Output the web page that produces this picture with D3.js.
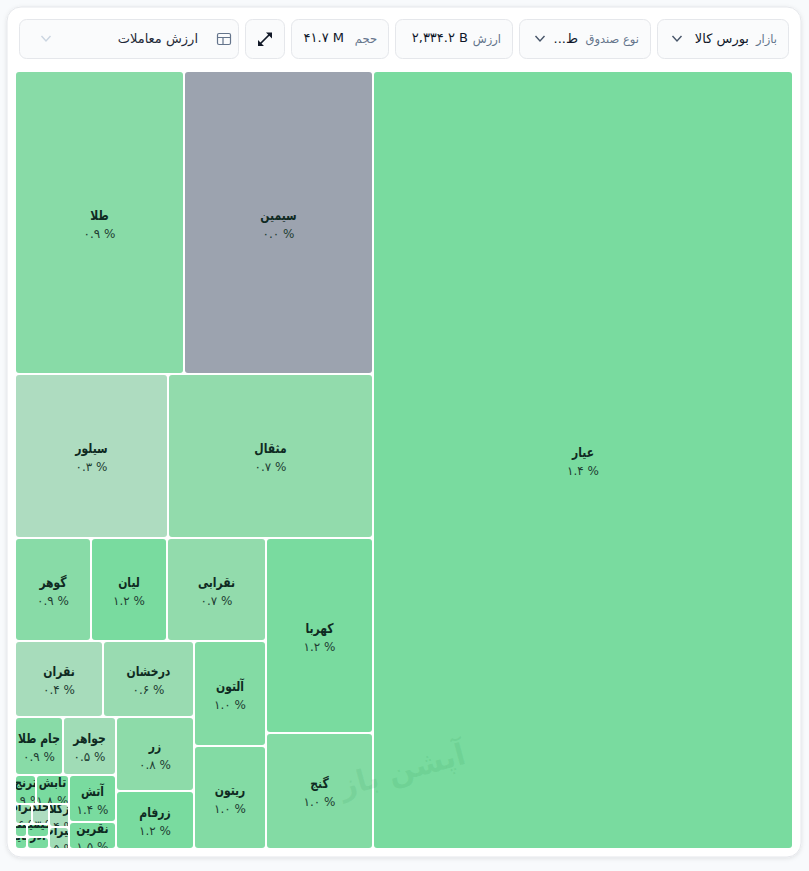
<!DOCTYPE html>
<html><head><meta charset="utf-8">
<script src="https://cdnjs.cloudflare.com/ajax/libs/d3/7.8.5/d3.min.js"></script>
<style>
html,body{margin:0;padding:0;background:#f8fafc;width:809px;height:871px;overflow:hidden}
svg{display:block;position:absolute;left:0;top:0}
text{font-family:"DejaVu Sans","Noto Sans",sans-serif}
</style></head><body><svg id="c" width="809" height="871"></svg>
<script>
// Fund trade values, B (they sum to about the 2,334.2 B total)
const names=["عیار","سیمین","طلا","مثقال","سیلور","کهربا","گنج","نقرابی","لیان","گوهر","آلتون","ریتون","درخشان","نقران","زر","زرفام","جواهر","جام طلا","آتش","نقرین","تابش","ترنج","زکلا","میراث","خلد","مراد","کیمیا","آذر","سکه","پایا"];
const values=[1260,220.8,197.5,129.6,96.8,80.5,47.9,39.3,30.2,30.2,29.2,28.6,26.7,25.8,22.3,17.4,11.9,10.7,8.5,4.9,3.7,2.35,1.77,1.7,1.31,1.31,1.1,1.02,0.6,0.56];
const changes=["۱.۴","۰.۰","۰.۹","۰.۷","۰.۳","۱.۲","۱.۰","۰.۷","۱.۲","۰.۹","۱.۰","۱.۰","۰.۶","۰.۴","۰.۸","۱.۲","۰.۵","۰.۹","۱.۴","۱.۵","۱.۸","۱.۹","۰.۴","۰.۵","۰.۳","۰.۶","۱.۲","۱.۳","۱.۱","۱.۲"];
const statsLabels=["بازار","نوع صندوق","ارزش","حجم"];
const statsValues=["بورس کالا","ط...","۲,۳۳۴.۲ B","۴۱.۷ M"];
const metricLabel="ارزش معاملات";
const watermark="آپشن باز";

// nesting of the treemap: H = side by side (right to left), V = stacked (top to bottom)
const H=(...c)=>({dir:"h",children:c}), V=(...c)=>({dir:"v",children:c});
const tiny=H(V(22,23),V(H(24,25),H(V(26,27),V(28,29))));
const tree=H(0,V(H(1,2),H(3,4),H(V(5,6),V(H(7,8,9),H(V(10,11),V(H(12,13),H(V(14,15),V(H(16,17),H(V(18,19),V(H(20,21),tiny))))))))));
const leafify=t=>typeof t==="number"?{idx:t,name:names[t],value:values[t],change:changes[t]}:{dir:t.dir,children:t.children.map(leafify)};
const root=d3.hierarchy(leafify(tree)).sum(d=>d.value||0);

const X0=15,Y0=71,X1=793,Y1=849;
const tile=(node,x0,y0,x1,y1)=>{
  const s=d3.scaleLinear().domain([0,d3.sum(node.children,c=>c.value)]);
  if(node.data.dir==="h"){ s.range([0,x1-x0]); let x=x1;
    node.children.forEach(c=>{c.y0=y0;c.y1=y1;c.x1=x;x-=s(c.value);c.x0=x;});
  } else { s.range([0,y1-y0]); let y=y0;
    node.children.forEach(c=>{c.x0=x0;c.x1=x1;c.y0=y;y+=s(c.value);c.y1=y;});
  }
};
d3.treemap().size([X1-X0,Y1-Y0]).tile(tile).round(true)(root);

const color=d3.scaleLinear().domain([0,0.01,0.3,0.7,1.2]).range(["#9ca3af","#b8dcc8","#aedcc0","#92dbac","#79db9f"]).clamp(true);
const toNum=s=>+s.replace(/[۰-۹]/g,c=>"۰۱۲۳۴۵۶۷۸۹".indexOf(c));

const svg=d3.select("#c");
const defs=svg.append("defs");
const f=defs.append("filter").attr("id","sh").attr("x","-5%").attr("y","-5%").attr("width","110%").attr("height","110%");
f.append("feDropShadow").attr("dx",0).attr("dy",1).attr("stdDeviation",2).attr("flood-color","#000").attr("flood-opacity",.1);

svg.append("rect").attr("x",7).attr("y",7).attr("width",794).attr("height",850).attr("rx",14).attr("fill","#fff").attr("stroke","#e5e7eb").attr("filter","url(#sh)");

// toolbar
const boxes=[{x:657,w:132,i:0,chev:677},{x:519,w:132,i:1,chev:540},{x:395,w:118,i:2},{x:291,w:98,i:3}];
const box=(x,w)=>svg.append("rect").attr("x",x+.5).attr("y",19.5).attr("width",w-1).attr("height",39).attr("rx",7).attr("fill","#fafbfc").attr("stroke","#e5e7eb");
const chev=(x,c)=>svg.append("path").attr("d",`M${x-4.5} 36 L${x} 41 L${x+4.5} 36`).attr("fill","none").attr("stroke",c).attr("stroke-width",1.4);
boxes.forEach(b=>{
  box(b.x,b.w);
  svg.append("text").attr("x",b.x+b.w-12).attr("y",43).attr("text-anchor","end").attr("font-size",11.5).attr("fill","#64748b").text(statsLabels[b.i]);
  if(b.chev) chev(b.chev,"#475569");
});
const valX=[749,578,468,344];
statsValues.forEach((v,i)=>{
  const t=svg.append("text").attr("y",i>1?42:43).attr("font-size",13).attr("fill","#0f172a").text(v);
  if(i===1) t.attr("x",valX[i]).attr("direction","rtl").attr("text-anchor","start");
  else t.attr("x",valX[i]).attr("text-anchor","end");
});
box(245,40);
svg.append("path").attr("d","M260.5 43.5 L269.5 34.5").attr("fill","none").attr("stroke","#111827").attr("stroke-width",1.7);
svg.append("path").attr("d","M266 32.5 H272 V38.5 Z M258 40 V46 H264 Z").attr("fill","#111827");
box(19,220);
svg.append("rect").attr("x",217.5).attr("y",33.5).attr("width",13).attr("height",11).attr("rx",1.5).attr("fill","none").attr("stroke","#64748b").attr("stroke-width",1.2);
svg.append("path").attr("d","M218 37.5 H230 M223 37.5 V44").attr("fill","none").attr("stroke","#64748b").attr("stroke-width",1.2);
svg.append("text").attr("x",198).attr("y",43).attr("text-anchor","end").attr("font-size",13).attr("fill","#1f2937").text(metricLabel);
chev(46,"#cbd5e1");

// cells
const leaves=root.leaves();
const g=svg.append("g").attr("transform",`translate(${X0},${Y0})`);
const cell=g.selectAll("g").data(leaves).join("g");
cell.each((d,i)=>{
  defs.append("clipPath").attr("id","cl"+i).append("rect").attr("x",X0+d.x0+1).attr("y",Y0+d.y0+1).attr("width",Math.max(0,d.x1-d.x0-2)).attr("height",Math.max(0,d.y1-d.y0-2));
});
cell.append("rect").attr("x",d=>d.x0+1).attr("y",d=>d.y0+1).attr("width",d=>Math.max(0,d.x1-d.x0-2)).attr("height",d=>Math.max(0,d.y1-d.y0-2)).attr("rx",3).attr("fill",d=>color(toNum(d.data.change)));
const lab=svg.append("g").selectAll("g").data(leaves).join("g").attr("clip-path",(d,i)=>`url(#cl${i})`);
lab.append("text").attr("transform",d=>`translate(${X0+(d.x0+d.x1)/2},${Y0+(d.y0+d.y1)/2-3}) scale(.8,1)`).attr("text-anchor","middle").attr("font-size",13.5).attr("font-weight",700).attr("fill","#0f2a22").text(d=>d.data.name);
lab.append("text").attr("x",d=>X0+(d.x0+d.x1)/2).attr("y",d=>Y0+(d.y0+d.y1)/2+15).attr("text-anchor","middle").attr("font-size",12).attr("fill","#1f3d33").text(d=>d.data.change+" %");

svg.append("text").attr("transform","translate(405,780) rotate(-15)").attr("text-anchor","middle").attr("font-size",30).attr("font-weight",700).attr("fill","#15803d").attr("fill-opacity",.09).text(watermark);
</script></body></html>
